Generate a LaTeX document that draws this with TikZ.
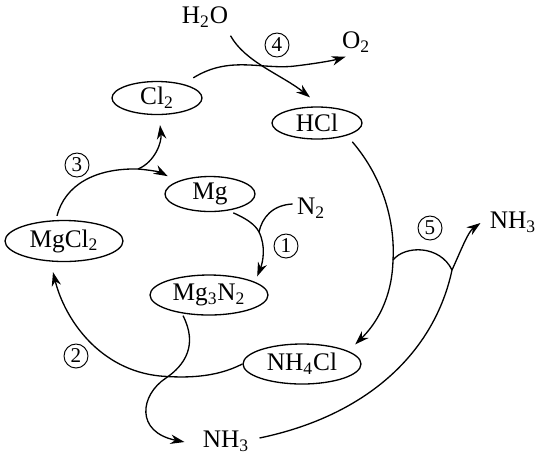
\documentclass[tikz,border=0pt]{standalone}
\usepackage{fontspec}
\setmainfont{Liberation Serif}
\usetikzlibrary{arrows.meta, shapes.geometric, calc}

\begin{document}
\begin{tikzpicture}[x=0.02cm, y=-0.02cm, font=\Large, line width=0.75pt,
    spc/.style={ellipse, draw, inner sep=0pt, minimum width=1.8cm, minimum height=0.66cm},
    bigspc/.style={spc, minimum width=2.36cm, minimum height=0.82cm},
    txt/.style={inner sep=1pt},
    num/.style={circle, draw, inner sep=0pt, minimum size=0.48cm, font=\large, line width=0.55pt},
    arr/.style={-{Stealth[length=2.8mm, width=1.9mm]}}]
    \useasboundingbox (0,0) rectangle (536,454);
    \node[txt] (h2o) at (205,17) {H\textsubscript{2}O};
    \node[txt] (o2) at (356,42) {O\textsubscript{2}};
    \node[spc] (cl) at (157,98) {Cl\textsubscript{2}};
    \node[spc, minimum height=0.64cm] (hcl) at (317,123) {HCl};
    \node[spc, minimum height=0.7cm] (mg) at (210,194) {Mg};
    \node[txt] (n2) at (311,208) {N\textsubscript{2}};
    \node[bigspc] (mgcl) at (64,241) {MgCl\textsubscript{2}};
    \node[bigspc, minimum height=0.8cm] (mgn) at (209,295) {Mg\textsubscript{3}N\textsubscript{2}};
    \node[bigspc, minimum height=0.8cm] (nh4) at (302,364) {NH\textsubscript{4}Cl};
    \node[txt] (nhr) at (513,222) {NH\textsubscript{3}};
    \node[txt] (nhb) at (226,441) {NH\textsubscript{3}};
    \node[num] (n1) at (286,246) {1};
    \node[num] (n2c) at (76,356) {2};
    \node[num] (n3) at (77,165) {3};
    \node[num] (n4) at (277,45) {4};
    \node[num] (n5) at (430,228) {5};
    \coordinate (j1) at (259,232);
    \coordinate (j3) at (138,169);
    \coordinate (j5) at (393,260);
    \coordinate (k5) at (452,270);
    \coordinate (j2) at (160,376);
    \coordinate (x2) at (166,378);
    \draw[arr] ($(cl.north east)+(4,-8)$) .. controls (230,55) and (262,70) .. (295,66)
        .. controls (320,63) and (335,60) .. ($(o2.south west)+(6,2)$);
    \draw[arr] ($(h2o.south east)+(0,6)$) .. controls (245,62) and (282,75) .. ($(hcl.north)+(-7,-9)$);
    \draw (hcl.south east) ++(3,7) .. controls (385,180) and (395,225) .. (j5);
    \draw[arr] (j5) .. controls (392,300) and (375,325) .. ($(nh4.north east)+(11,-5)$);
    \draw (j5) .. controls (405,245) and (440,245) .. (k5);
    \draw[arr] (nhb.east) ++(8,-3) .. controls (370,415) and (435,350) .. (k5)
        .. controls (462,248) and (468,232) .. ($(nhr.west)+(-7,1)$);
    \draw ($(mg.south east)+(-9,6)$) .. controls (245,218) and (255,224) .. (j1);
    \draw[arr] (j1) .. controls (266,246) and (263,262) .. ($(mgn.north east)+(6,-4)$);
    \draw (n2.west) ++(-2,-4) .. controls (272,205) and (262,218) .. (j1);
    \draw ($(mgcl.north)+(-7,-4)$) .. controls (65,185) and (95,168) .. (j3);
    \draw[arr] (j3) .. controls (150,170) and (160,172) .. ($(mg.north west)+(-10,-5)$);
    \draw[arr] (j3) .. controls (155,162) and (162,142) .. ($(cl.south)+(3,10)$);
    \draw (nh4.west) .. controls (215,378) and (185,378) .. (j2);
    \draw[arr] (j2) .. controls (100,370) and (65,320) .. ($(mgcl.south)+(-11,10)$);
    \draw ($(mgn.south)+(-26,0)$) .. controls (198,345) and (185,365) .. (x2);
    \draw[arr] (x2) .. controls (140,395) and (135,432) .. ($(nhb.west)+(-16,1)$);
\end{tikzpicture}
\end{document}
